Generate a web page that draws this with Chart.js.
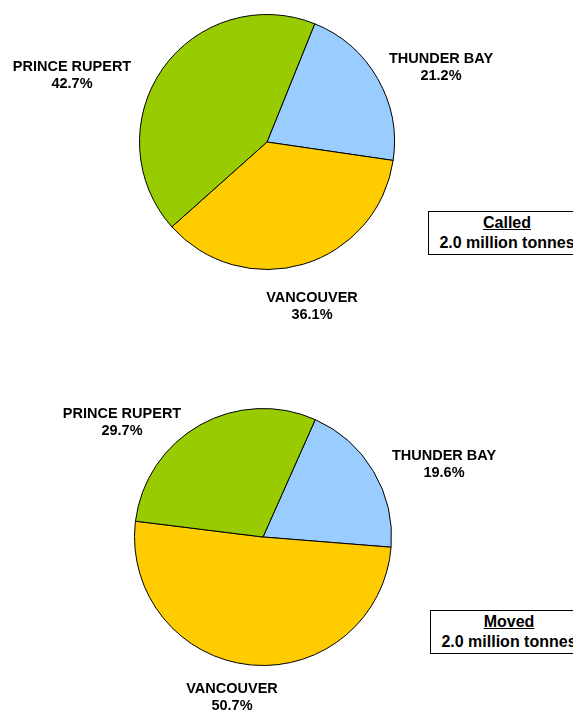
<!DOCTYPE html>
<html>
<head>
<meta charset="utf-8">
<script src="https://cdn.jsdelivr.net/npm/chart.js@4"></script>
<style>
  body { margin: 0; width: 573px; height: 711px; overflow: hidden; background: #fff; position: relative; font-family: 'Liberation Sans', Arial, sans-serif; }
  .wrap { position: absolute; left: 0; width: 573px; }
  .box { position: absolute; border: 1px solid #000; background: #fff; width: 156px; height: 41px; text-align: center; font-weight: bold; font-size: 16px; line-height: 20px; padding-top: 1px; color: #000; white-space: nowrap; }
  .box u { text-decoration: underline; }
</style>
</head>
<body>
<div class="wrap" style="top:0;height:355px"><canvas id="calledChart" width="573" height="355"></canvas></div>
<div class="wrap" style="top:355px;height:356px"><canvas id="movedChart" width="573" height="356"></canvas></div>
<div class="box" style="left:428px;top:211px"><u>Called</u><br>2.0 million tonnes</div>
<div class="box" style="left:430px;top:610px"><u>Moved</u><br>2.0 million tonnes</div>
<script>
const ports = ['THUNDER BAY', 'VANCOUVER', 'PRINCE RUPERT']
const calledShare = [21.2, 36.1, 42.7]
const movedShare = [19.6, 50.7, 29.7]
const portColors = ['#99CCFF', '#FFCC00', '#99CC00']

// label anchor offsets from the pie centre, one per port
const outsideLabels = {
  id: 'outsideLabels',
  afterDatasetsDraw (chart, args, opts) {
    const ctx = chart.ctx
    const arcs = chart.getDatasetMeta(0).data
    const vals = chart.data.datasets[0].data
    ctx.save()
    ctx.fillStyle = '#000'
    ctx.font = 'bold 14.5px "Liberation Sans", Arial, sans-serif'
    ctx.textAlign = 'center'
    ctx.textBaseline = 'middle'
    arcs.forEach(function (arc, i) {
      const off = opts.offsets[i]
      const x = arc.x + off[0]
      const y = arc.y + off[1]
      ctx.fillText(chart.data.labels[i], x, y - 8.5)
      ctx.fillText(vals[i].toFixed(1) + '%', x, y + 9)
    })
    ctx.restore()
  }
}

function makePie (id, values, rotation, padding, offsets) {
  return new Chart(document.getElementById(id), {
    type: 'pie',
    data: {
      labels: ports,
      datasets: [{
        data: values,
        backgroundColor: portColors,
        borderColor: '#000',
        borderWidth: 1
      }]
    },
    options: {
      responsive: false,
      animation: false,
      rotation: rotation,
      layout: { padding: padding },
      plugins: {
        legend: { display: false },
        tooltip: { enabled: false },
        outsideLabels: { offsets: offsets }
      }
    },
    plugins: [outsideLabels]
  })
}

makePie('calledChart', calledShare, 22,
  { left: 139, right: 178, top: 14, bottom: 85 },
  [[174, -75], [45, 164], [-195, -67]])
makePie('movedChart', movedShare, 24,
  { left: 134, right: 181, top: 53, bottom: 45 },
  [[181, -73], [-31, 160], [-141, -115]])
</script>
</body>
</html>
